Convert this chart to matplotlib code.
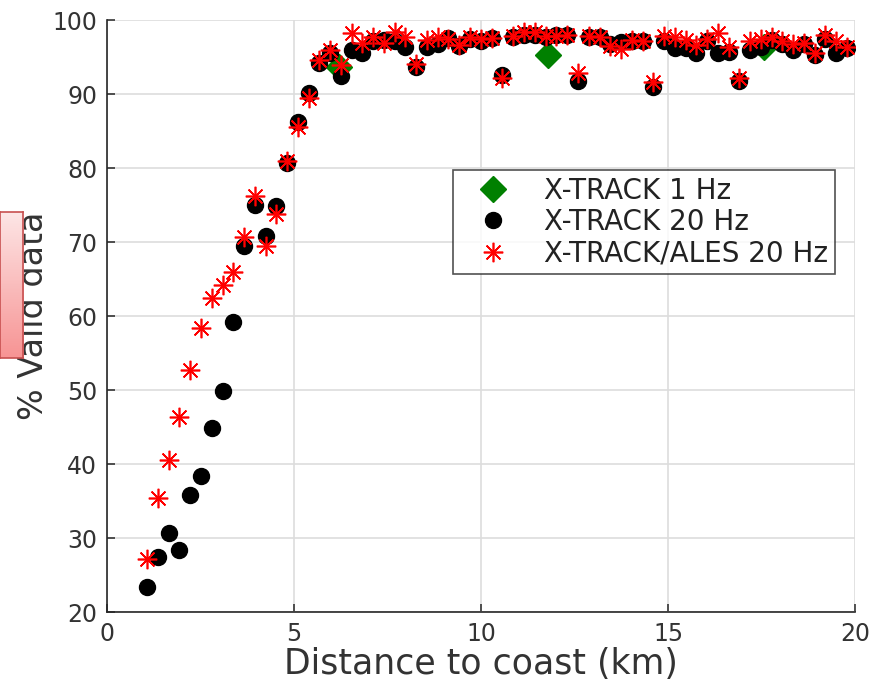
import matplotlib
matplotlib.use("Agg")
import matplotlib.pyplot as plt
import numpy as np

# distance to coast (km) for the 20 Hz points
dist_20hz = [1.07, 1.36, 1.65, 1.93, 2.22, 2.51, 2.80, 3.09, 3.37, 3.66,
             3.95, 4.24, 4.53, 4.81, 5.10, 5.39, 5.68, 5.97, 6.25, 6.54,
             6.83, 7.12, 7.41, 7.69, 7.98, 8.27, 8.56, 8.85, 9.13, 9.42,
             9.71, 10.00, 10.29, 10.57, 10.86, 11.15, 11.44, 11.73, 12.01, 12.30,
             12.59, 12.88, 13.17, 13.45, 13.74, 14.03, 14.32, 14.61, 14.89, 15.18,
             15.47, 15.76, 16.05, 16.33, 16.62, 16.91, 17.20, 17.49, 17.77, 18.06,
             18.35, 18.64, 18.93, 19.21, 19.50, 19.79]

xtrack_20hz = [23.4, 27.4, 30.7, 28.4, 35.8, 38.4, 44.8, 49.8, 59.2, 69.5,
               75.0, 70.8, 74.9, 80.7, 86.2, 90.1, 94.2, 95.5, 92.5, 96.0,
               95.5, 97.1, 97.3, 97.1, 96.4, 93.7, 96.3, 96.8, 97.6, 96.5,
               97.5, 97.1, 97.6, 92.6, 97.7, 98.0, 98.0, 97.7, 98.0, 98.0,
               91.7, 97.7, 97.7, 96.8, 97.0, 97.2, 97.1, 90.9, 97.2, 96.2,
               96.2, 95.6, 97.1, 95.6, 95.7, 91.7, 95.9, 96.4, 97.3, 96.8,
               95.9, 96.8, 95.3, 97.4, 95.5, 96.2]

ales_20hz = [27.1, 35.4, 40.5, 46.4, 52.7, 58.4, 62.5, 64.2, 65.9, 70.7,
             76.2, 69.5, 73.8, 80.9, 85.6, 89.4, 94.6, 96.0, 93.9, 98.2,
             96.9, 97.7, 96.9, 98.4, 97.7, 94.1, 97.3, 97.7, 97.5, 96.6,
             97.7, 97.5, 97.6, 92.2, 97.9, 98.4, 98.4, 97.9, 97.9, 98.0,
             92.8, 97.8, 97.7, 96.5, 96.1, 97.3, 97.1, 91.6, 97.9, 97.7,
             97.3, 96.6, 97.5, 98.2, 96.4, 92.1, 97.1, 97.5, 97.7, 97.2,
             96.8, 96.9, 95.5, 98.0, 97.1, 96.4]

dist_1hz = [6.21, 11.78, 17.56]
xtrack_1hz = [93.7, 95.3, 96.4]

txt = '#333333'
plt.rcParams['font.family'] = 'DejaVu Sans'

fig = plt.figure(figsize=(8.71, 6.85), dpi=100)
ax = fig.add_axes([107 / 871, 73 / 685, 748 / 871, 592 / 685])

ax.plot(dist_1hz, xtrack_1hz, ls='none', marker='D', ms=13, color='green',
        mec='green', label='X-TRACK 1 Hz', zorder=3)
ax.plot(dist_20hz, xtrack_20hz, ls='none', marker='o', ms=11.5, color='black',
        mec='black', label='X-TRACK 20 Hz', zorder=4)
ax.plot(dist_20hz, ales_20hz, ls='none', marker=(8, 2, 0), ms=14, mew=1.2,
        color='red', mec='red', label='X-TRACK/ALES 20 Hz', zorder=5)

ax.set_xlim(0, 20)
ax.set_ylim(20, 100)
ax.set_xticks([0, 5, 10, 15, 20])
ax.set_yticks(np.arange(20, 101, 10))
ax.grid(True, color='#dddddd', lw=1.2)
ax.set_axisbelow(True)
for s in ['top', 'right']:
    ax.spines[s].set_visible(False)
for s in ['left', 'bottom']:
    ax.spines[s].set_color('#262626')
    ax.spines[s].set_linewidth(1.2)
ax.tick_params(direction='in', length=6, width=1.1, color='#262626',
               labelsize=17, labelcolor=txt, pad=7)

ax.set_xlabel('Distance to coast (km)', fontsize=25, color=txt, labelpad=1)
ax.set_ylabel('% Valid data', fontsize=24, color=txt)
ax.yaxis.set_label_coords(-0.076, 0.5)

leg = ax.legend(loc='upper right', bbox_to_anchor=(0.973, 0.747), fontsize=20,
                frameon=True, fancybox=False, borderaxespad=0, handletextpad=0.65,
                labelspacing=0.12, borderpad=0.25, handlelength=2.35)
leg.get_frame().set_edgecolor('#262626')
leg.get_frame().set_linewidth(1.2)
for t in leg.get_texts():
    t.set_color('#222222')

# red callout box covering part of the y label
box = fig.add_axes([0, (685 - 358) / 685, 23 / 871, 146 / 685])
grad = np.linspace(0, 1, 100).reshape(-1, 1)
box.imshow(grad, aspect='auto', cmap=matplotlib.colors.LinearSegmentedColormap.from_list(
    'pink', ['#fde6e6', '#f79494']), extent=[0, 1, 0, 1], origin='upper')
box.set_xticks([])
box.set_yticks([])
for s in box.spines.values():
    s.set_color('#c85050')
    s.set_linewidth(1.2)

fig.savefig('out.png', dpi=100)
